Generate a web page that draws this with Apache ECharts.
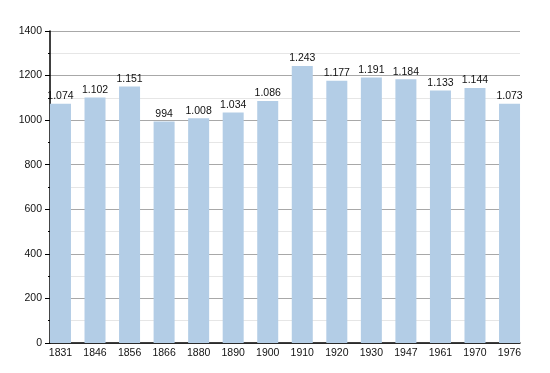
<!DOCTYPE html>
<html><head><meta charset="utf-8">
<script src="https://cdn.jsdelivr.net/npm/echarts@6/dist/echarts.min.js"></script>
<style>html,body{margin:0;padding:0;background:#fff}#c{width:550px;height:373px}</style>
</head><body><div id="c"></div>
<script>
const years = ['1831','1846','1856','1866','1880','1890','1900','1910','1920','1930','1947','1961','1970','1976'];
const population = [1074,1102,1151,994,1008,1034,1086,1243,1177,1191,1184,1133,1144,1073];
const yTicks = [0,200,400,600,800,1000,1200,1400];

const chart = echarts.init(document.getElementById('c'), null, {renderer:'canvas'});
const font = 'Liberation Sans, Arial, sans-serif';
const fmt = v => { const s = String(v); return s.length > 3 ? s.slice(0, s.length-3) + '.' + s.slice(-3) : s; };
chart.setOption({
  animation:false,
  grid:[
    {left:50, right:30, top:31, bottom:30},
    {left:43.2, right:23.2, top:31, bottom:30}
  ],
  xAxis:[
    {gridIndex:0, type:'category', data:years, boundaryGap:true,
     axisLine:{lineStyle:{color:'#000', width:1.5}}, axisTick:{show:false}, axisLabel:{show:false}},
    {gridIndex:1, type:'category', data:years, boundaryGap:true,
     axisLine:{show:false}, axisTick:{show:false},
     axisLabel:{color:'#111', fontFamily:font, fontSize:10.5, margin:5}}
  ],
  yAxis:[
    {gridIndex:0, type:'value', min:0, max:1400, interval:200,
     axisLine:{show:true, lineStyle:{color:'#000', width:1.5}},
     axisTick:{show:true, length:5, lineStyle:{color:'#000'}},
     minorTick:{show:true, splitNumber:2, length:2, lineStyle:{color:'#000'}},
     splitLine:{show:true, lineStyle:{color:'#a8a8a8', width:1}},
     minorSplitLine:{show:true, lineStyle:{color:'#e6e6e6', width:1}},
     axisLabel:{color:'#111', fontFamily:font, fontSize:10.5, margin:8,
       formatter: v => yTicks.includes(v) ? String(v) : ''}},
    {gridIndex:1, type:'value', min:0, max:1400, show:false}
  ],
  series:[{
    type:'bar', xAxisIndex:1, yAxisIndex:1, data:population, barWidth:21,
    itemStyle:{color:'#b3cde6'},
    label:{show:true, position:'top', distance:2, color:'#111', fontFamily:font, fontSize:10.5,
      formatter: p => fmt(p.value)}
  }]
});
</script></body></html>
